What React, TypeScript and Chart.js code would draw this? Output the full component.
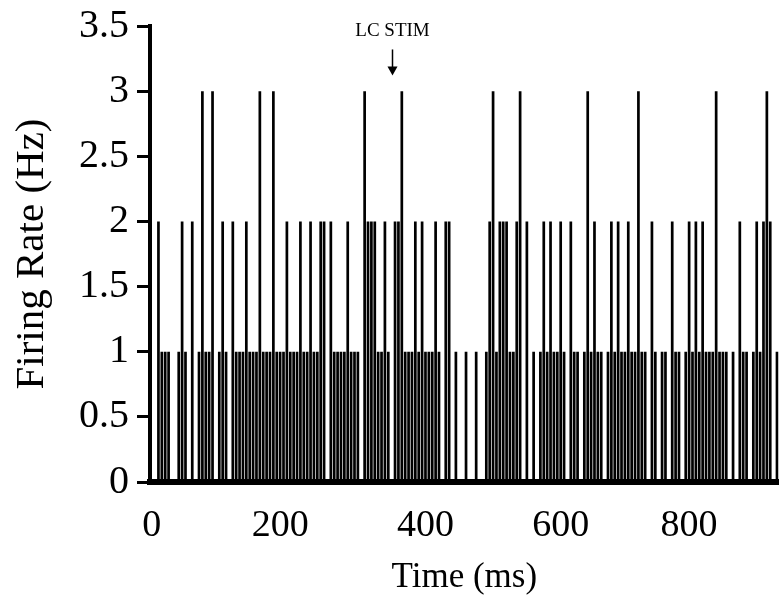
import { useEffect, useRef } from "react";
import { Chart, registerables } from "chart.js";

Chart.register(...registerables);

// Firing rate (Hz) per time bin
const firingRate = [
  0, 0, 2, 1, 1, 1, 0, 0, 1, 2, 1, 0, 2, 0, 1, 3, 1, 1, 3, 0,
  1, 2, 1, 0, 2, 1, 1, 1, 2, 1, 1, 1, 3, 1, 1, 1, 3, 1, 1, 1,
  2, 1, 1, 1, 2, 1, 1, 2, 1, 1, 2, 2, 0, 2, 1, 1, 1, 1, 2, 1,
  1, 1, 0, 3, 2, 2, 2, 1, 1, 2, 1, 0, 2, 2, 3, 1, 1, 1, 2, 1,
  2, 1, 1, 1, 2, 1, 0, 2, 2, 0, 1, 0, 0, 1, 0, 0, 1, 0, 0, 1,
  2, 3, 1, 2, 2, 2, 1, 1, 2, 3, 0, 2, 0, 1, 0, 1, 2, 1, 2, 1,
  1, 2, 1, 0, 2, 1, 1, 0, 1, 3, 1, 2, 1, 1, 0, 1, 2, 1, 2, 1,
  1, 2, 1, 1, 3, 1, 1, 0, 2, 1, 0, 1, 1, 0, 2, 1, 1, 0, 1, 2,
  1, 2, 1, 2, 1, 1, 1, 3, 1, 1, 1, 0, 1, 0, 2, 1, 1, 0, 1, 2,
  1, 2, 3, 2, 0, 1,
];

// Category labels (bin numbers)
const binLabels = firingRate.map((_, i) => String(i));

// Bins where the time labels appear, and the labels themselves
const tickBins = [0, 38, 81, 121, 159];
const tickLabels = ["0", "200", "400", "600", "800"];

// Annotation
const stimBin = 71;
const stimLabel = "LC STIM";
const stimTextValue = 3.46;
const stimArrowTop = 3.32;
const stimArrowTip = 3.12;

const FONT = '"Liberation Serif", "Times New Roman", serif';

const stimPlugin = {
  id: "stimAnnotation",
  afterDraw(chart: any) {
    const ctx = chart.ctx;
    const xs = chart.scales.x;
    const ys = chart.scales.y;
    const x = Math.round(xs.getPixelForValue(stimBin)) + 0.5;
    const tY = ys.getPixelForValue(stimTextValue);
    const aTop = ys.getPixelForValue(stimArrowTop);
    const aTip = ys.getPixelForValue(stimArrowTip);
    ctx.save();
    ctx.fillStyle = "#000";
    ctx.strokeStyle = "#000";
    ctx.font = `19px ${FONT}`;
    ctx.textAlign = "center";
    ctx.textBaseline = "middle";
    ctx.fillText(stimLabel, x, tY);
    ctx.lineWidth = 1.5;
    ctx.beginPath();
    ctx.moveTo(x, aTop);
    ctx.lineTo(x, aTip - 6);
    ctx.stroke();
    ctx.beginPath();
    ctx.moveTo(x - 5, aTip - 9);
    ctx.lineTo(x + 5, aTip - 9);
    ctx.lineTo(x, aTip);
    ctx.closePath();
    ctx.fill();
    ctx.restore();
  },
};

export default function App() {
  const canvasRef = useRef<HTMLCanvasElement | null>(null);

  useEffect(() => {
    if (!canvasRef.current) return;
    const chart = new Chart(canvasRef.current, {
      type: "bar",
      data: {
        labels: binLabels,
        datasets: [
          {
            data: firingRate,
            backgroundColor: "#000",
            borderWidth: 0,
            barPercentage: 0.8,
            categoryPercentage: 1,
          },
        ],
      },
      options: {
        animation: false,
        responsive: false,
        devicePixelRatio: 1,
        layout: { padding: { top: 24, right: 0, bottom: 0, left: 0 } },
        plugins: {
          legend: { display: false },
          tooltip: { enabled: false },
        },
        scales: {
          x: {
            type: "category",
            offset: true,
            grid: { display: false, drawTicks: false },
            border: { display: true, color: "#000", width: 6 },
            ticks: {
              autoSkip: false,
              maxRotation: 0,
              minRotation: 0,
              padding: 21,
              color: "#000",
              font: { family: FONT, size: 38 },
              callback: (_v: any, i: number) => {
                const k = tickBins.indexOf(i);
                return k >= 0 ? tickLabels[k] : "";
              },
            },
            title: {
              display: true,
              text: "Time (ms)",
              color: "#000",
              font: { family: FONT, size: 35 },
              padding: { top: 0, bottom: -2 },
            },
            afterFit: (s: any) => {
              s.height = 115;
            },
          },
          y: {
            min: 0,
            max: 3.5,
            grid: {
              drawOnChartArea: false,
              drawTicks: true,
              tickLength: 13,
              tickWidth: 3,
              color: "#000",
            },
            border: { display: true, color: "#000", width: 4 },
            ticks: {
              stepSize: 0.5,
              padding: 8,
              color: "#000",
              font: { family: FONT, size: 40, lineHeight: 0.9 },
              callback: (v: any) => String(v),
            },
            title: {
              display: true,
              text: "Firing Rate (Hz)",
              color: "#000",
              font: { family: FONT, size: 41 },
              padding: { top: 8, bottom: 0 },
            },
            afterFit: (s: any) => {
              s.width = 150;
            },
          },
        },
      },
      plugins: [stimPlugin],
    });
    return () => chart.destroy();
  }, []);

  return (
    <div
      style={{
        position: "fixed",
        left: 0,
        top: 0,
        width: 780,
        height: 597,
        overflow: "hidden",
        background: "#fff",
      }}
    >
      <canvas ref={canvasRef} width={798} height={597} style={{ display: "block" }} />
    </div>
  );
}
